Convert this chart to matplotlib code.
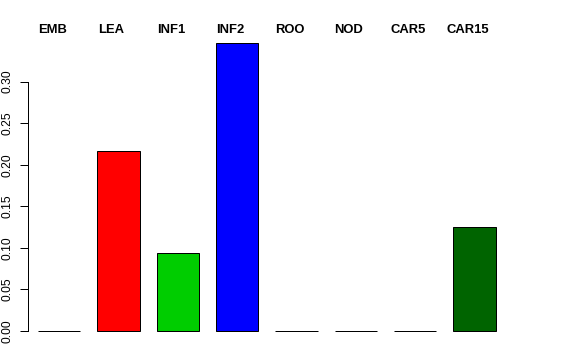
import matplotlib
matplotlib.use("Agg")
import matplotlib.pyplot as plt
import numpy as np

categories = ["EMB", "LEA", "INF1", "INF2", "ROO", "NOD", "CAR5", "CAR15"]
values = [0.0, 0.217, 0.094, 0.347, 0.0, 0.0, 0.0, 0.125]
colors = ["#FFFFFF", "#FF0000", "#00CD00", "#0000FF", "#FFFFFF", "#FFFFFF", "#FFFFFF", "#006400"]
yticks = [0.00, 0.05, 0.10, 0.15, 0.20, 0.25, 0.30]

plt.rcParams['font.family'] = ['Liberation Sans', 'DejaVu Sans']

W, H = 576, 360
fig = plt.figure(figsize=(W / 72, H / 72), dpi=72)
left_px, right_px = 28, 514
bot_px, top_px = 342.5, 31
ax = fig.add_axes([left_px / W, (H - bot_px) / H, (right_px - left_px) / W, (bot_px - top_px) / H])

space = 0.4
centers = np.array([space + 0.5 + i * (1 + space) for i in range(len(values))])
ax.bar(centers, values, width=1.0, color=colors, edgecolor="black", linewidth=1.0)

x0, x1 = 0.164, 11.63
ax.set_xlim(x0, x1)
ymax = max(values) * 1.04
ax.set_ylim(-0.0139, ymax)

for s in ["top", "right", "bottom"]:
    ax.spines[s].set_visible(False)
ax.spines["left"].set_bounds(0, 0.30)
ax.spines["left"].set_linewidth(1.0)
ax.set_xticks([])
ax.set_yticks(yticks)
ax.set_yticklabels([f"{v:.2f}" for v in yticks], rotation=90, va="center", fontsize=12)
ax.tick_params(axis="y", length=8, pad=6, width=1.0)

for c, lab in zip(centers, categories):
    xpx = left_px + (c - x0) / (x1 - x0) * (right_px - left_px) - 7
    fig.text(xpx / W, (H - 30) / H, lab, ha="center", va="center",
             fontsize=13, fontweight="bold")

fig.savefig("out.png", dpi=72)
